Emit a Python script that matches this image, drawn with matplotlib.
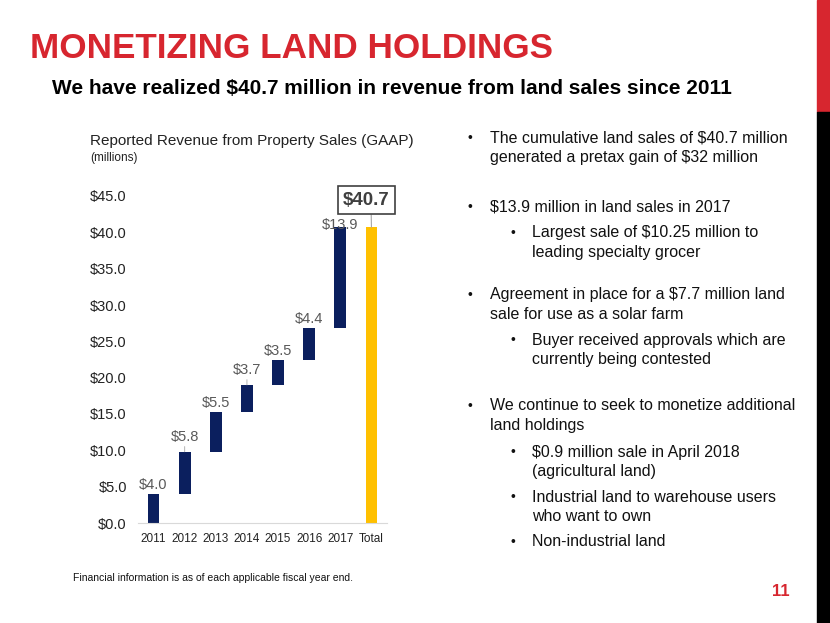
import numpy as np
import matplotlib.pyplot as plt

plt.rcParams['font.family'] = ['Liberation Sans', 'DejaVu Sans']

years = ['2011', '2012', '2013', '2014', '2015', '2016', '2017']
sales = [4.0, 5.8, 5.5, 3.7, 3.5, 4.4, 13.9]
total = 40.7
categories = years + ['Total']
y_ticks = [0, 5, 10, 15, 20, 25, 30, 35, 40, 45]

bullets = [
    (0, ['The cumulative land sales of $40.7 million', 'generated a pretax gain of $32 million']),
    (0, ['$13.9 million in land sales in 2017']),
    (1, ['Largest sale of $10.25 million to', 'leading specialty grocer']),
    (0, ['Agreement in place for a $7.7 million land', 'sale for use as a solar farm']),
    (1, ['Buyer received approvals which are', 'currently being contested']),
    (0, ['We continue to seek to monetize additional', 'land holdings']),
    (1, ['$0.9 million sale in April 2018', '(agricultural land)']),
    (1, ['Industrial land to warehouse users', 'who want to own']),
    (1, ['Non-industrial land']),
]
bullet_y = [138, 207, 233, 295, 340, 406, 452, 497, 542]

navy = '#0B1F5E'
gold = '#FFC000'
red = '#D7262F'
gray = '#595959'

fig = plt.figure(figsize=(8.3, 6.23), dpi=100)
W, H = 830, 623

def fx(px):
    return px / W

def fy(py):
    return 1 - py / H

# right edge strip
fig.patches.append(plt.Rectangle((fx(817), fy(112)), fx(13), 112 / H, transform=fig.transFigure, color=red))
fig.patches.append(plt.Rectangle((fx(817), 0), fx(13), fy(112), transform=fig.transFigure, color='black'))

fig.text(fx(30), fy(49), 'MONETIZING LAND HOLDINGS', color=red, fontsize=25.3, fontweight='bold',
         va='center', ha='left')
fig.text(fx(52), fy(89), 'We have realized $40.7 million in revenue from land sales since 2011', color='black',
         fontsize=15, fontweight='bold', va='center', ha='left')

fig.text(fx(90), fy(141), 'Reported Revenue from Property Sales (GAAP)', fontsize=11, va='center', color='#222222')
fig.text(fx(90), fy(158), '(millions)', fontsize=8.5, va='center', color='#222222')

ax = fig.add_axes([fx(138), fy(523), fx(387 - 138), (523 - 196) / H])
x = np.arange(len(categories))
bottoms = np.concatenate([[0], np.cumsum(sales)[:-1]])
ax.bar(x[:-1], sales, bottom=bottoms, width=0.38, color=navy)
ax.bar(x[-1], total, width=0.38, color=gold)
ax.set_xlim(-0.5, len(categories) - 0.5)
ax.set_ylim(0, 45)
ax.set_yticks(y_ticks)
ax.set_yticklabels(['${:.1f}'.format(v) for v in y_ticks], fontsize=10.5)
ax.set_xticks(x)
ax.set_xticklabels(categories, fontsize=8.5)
for s in ['top', 'right', 'left']:
    ax.spines[s].set_visible(False)
ax.spines['bottom'].set_color('#D9D9D9')
ax.tick_params(axis='both', length=0, colors='#222222')
ax.tick_params(axis='y', pad=8)
ax.tick_params(axis='x', pad=7)

# data labels: offsets in pixels, leader line flag
offsets = [2, 8, 2, 8, 2, 2, -5]
leaders = [False, True, False, True, False, False, False]
for i, v in enumerate(sales):
    top = bottoms[i] + v
    if leaders[i]:
        ax.annotate('${:.1f}'.format(v), xy=(x[i], top), xytext=(0, offsets[i]), textcoords='offset pixels',
                    ha='center', va='bottom', fontsize=10.5, color=gray,
                    arrowprops=dict(arrowstyle='-', color='#A6A6A6', lw=0.6, shrinkA=0, shrinkB=0))
    else:
        ax.annotate('${:.1f}'.format(v), xy=(x[i], top), xytext=(0, offsets[i]), textcoords='offset pixels',
                    ha='center', va='bottom', fontsize=10.5, color=gray)

ax.annotate('${:.1f}'.format(total), xy=(x[-1], total), xytext=(-5, 27), textcoords='offset pixels',
            ha='center', va='center', fontsize=13.5, fontweight='bold', color='#3F3F3F',
            bbox=dict(boxstyle='square,pad=0.28', fc='white', ec='#404040', lw=1.2),
            arrowprops=dict(arrowstyle='-', color='#A6A6A6', lw=0.8, shrinkA=0, shrinkB=0,
                            relpos=(0.6, 0)),
            annotation_clip=False)

# bullet list
for (level, lines), y0 in zip(bullets, bullet_y):
    bx = 467 if level == 0 else 510
    tx = 490 if level == 0 else 532
    fig.text(fx(bx), fy(y0), '•', fontsize=10, va='center', color='#111111')
    for j, line in enumerate(lines):
        fig.text(fx(tx), fy(y0 + j * 19.5), line, fontsize=11.5, va='center', color='#111111')

fig.text(fx(73), fy(578), 'Financial information is as of each applicable fiscal year end.', fontsize=7.5,
         va='center', color='#111111')
fig.text(fx(790), fy(592), '11', fontsize=12, fontweight='bold', color=red, va='center', ha='right')

fig.savefig('out.png', dpi=100)
